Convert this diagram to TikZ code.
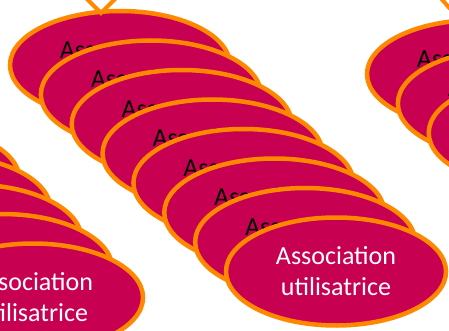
\documentclass[tikz,border=0pt]{standalone}
\usepackage{fontspec}
\setmainfont{Carlito}
\usetikzlibrary{shapes.geometric}
\definecolor{bubfill}{RGB}{200,0,82}
\definecolor{bubline}{RGB}{255,136,0}
\tikzset{
  bub/.style={ellipse, draw=bubline, fill=bubfill, line width=4.5pt,
    minimum width=220pt, minimum height=108pt, inner sep=0pt,
    align=center, font=\fontsize{26}{31}\selectfont},
  conn/.style={draw=bubline, line width=4pt}
}
\begin{document}
\begin{tikzpicture}[x=1pt,y=-1pt]
\useasboundingbox (0,0) rectangle (449,331);
\clip (0,0) rectangle (449,331);
% left stack
\foreach \k/\tc in {0/black,1/black,2/black,3/black,4/black,5/black,6/black,7/white}{
  \node[bub, text=\tc] (l\k) at ({-183+30.86*\k},{91+29.5*\k}) {Association\\utilisatrice};
}
% main stack
\foreach \k/\tc in {0/black,1/black,2/black,3/black,4/black,5/black,6/black,7/white}{
  \node[bub, text=\tc] (m\k) at ({120+30.86*\k},{65+29.5*\k}) {Association\\utilisatrice};
}
% right stack
\foreach \k/\tc in {0/black,1/black,2/black,3/black,4/black,5/black,6/black,7/white}{
  \node[bub, text=\tc] (r\k) at ({477+30.86*\k},{74+29.5*\k}) {Association\\utilisatrice};
}
% connectors
\coordinate (vtip) at (101,13);
\coordinate (vl) at (83,-5);
\coordinate (vr) at (119,-5);
\draw[conn] (vl) -- (vtip) -- (vr);
\coordinate (rtip) at (460,20);
\coordinate (rs) at (438,-5);
\draw[conn] (rs) -- (rtip);
\end{tikzpicture}
\end{document}
